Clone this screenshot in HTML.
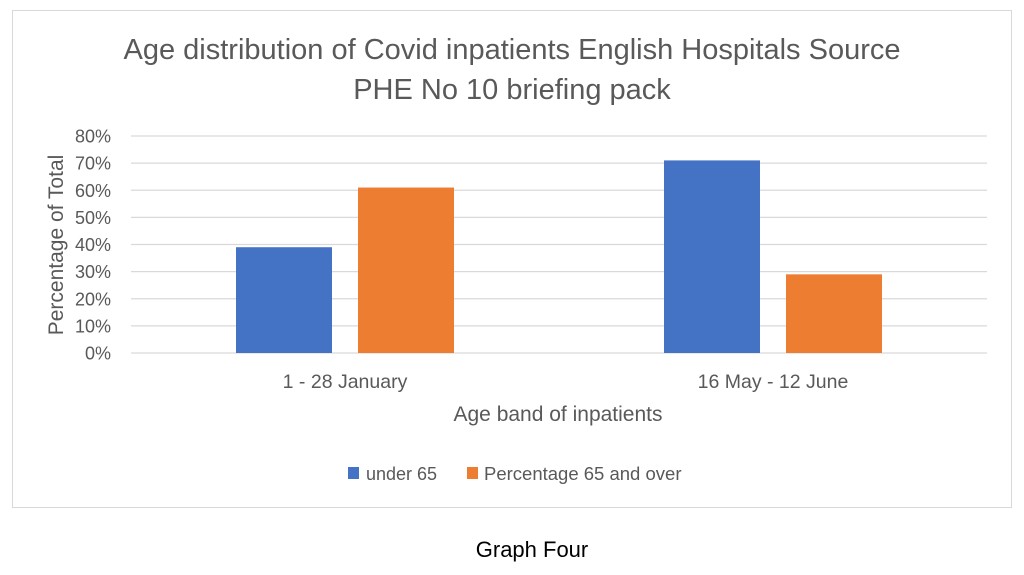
<!DOCTYPE html>
<html><head><meta charset="utf-8"><style>
body{margin:0;background:#fff;width:1024px;height:570px;overflow:hidden;font-family:"Liberation Sans",sans-serif}
</style></head><body>
<svg width="1024" height="570">
<rect x="12.5" y="10.5" width="999" height="497" fill="#fff" stroke="#d9d9d9"/>
<text x="512" y="59" font-size="29" fill="#595959" text-anchor="middle">Age distribution of Covid inpatients English Hospitals Source</text>
<text x="512" y="99" font-size="29" fill="#595959" text-anchor="middle">PHE No 10 briefing pack</text>
<g id="grid"></g><g id="bars"></g><g id="xl"></g>
<text transform="translate(63,245) rotate(-90)" font-size="21" fill="#595959" text-anchor="middle">Percentage of Total</text>
<text x="558" y="421" font-size="21" fill="#595959" text-anchor="middle">Age band of inpatients</text>
<g>
<rect x="348" y="467" width="11" height="12" fill="#4472c4"/>
<text x="366" y="480" font-size="18" fill="#595959">under 65</text>
<rect x="467" y="467" width="11" height="12" fill="#ed7d31"/>
<text x="484" y="480" font-size="18.5" fill="#595959">Percentage 65 and over</text>
</g>
<text x="532" y="557" font-size="22" fill="#000" text-anchor="middle">Graph Four</text>
</svg>
<script>
const categories=["1 - 28 January","16 May - 12 June"];
const under65=[39,71];
const over65=[61,29];
const yTicks=[0,10,20,30,40,50,60,70,80];
const ns="http://www.w3.org/2000/svg";
const L=131,R=987,Y0=353,Y80=136;
const y=v=>Y0-(v/80)*(Y0-Y80);
const cw=(R-L)/categories.length;
const cx=i=>L+cw*(i+0.5);
function mk(t,a,p){const e=document.createElementNS(ns,t);for(const k in a)e.setAttribute(k,a[k]);p.appendChild(e);return e;}
const g=document.getElementById('grid');
yTicks.forEach(v=>{
 const l=mk('line',{x1:L,x2:R,y1:y(v),y2:y(v),stroke:'#d9d9d9','stroke-width':1.3},g);
 
 
 const t=mk('text',{x:111,y:y(v)+6.5,'font-size':18,fill:'#595959','text-anchor':'end'},g);
 t.textContent=v+'%';
 
 
});
const b=document.getElementById('bars'),xl=document.getElementById('xl');
const bw=96,gap=26;
categories.forEach((c,i)=>{
 const r1=mk('rect',{x:cx(i)-gap/2-bw,y:y(under65[i]),width:bw,height:Y0-y(under65[i]),fill:'#4472c4'},b);
 
 
 const r2=mk('rect',{x:cx(i)+gap/2,y:y(over65[i]),width:bw,height:Y0-y(over65[i]),fill:'#ed7d31'},b);
 
 
 const t=mk('text',{x:cx(i),y:388,'font-size':19.5,fill:'#595959','text-anchor':'middle'},xl);
 t.textContent=c;
 
 
});
</script>
</body></html>
